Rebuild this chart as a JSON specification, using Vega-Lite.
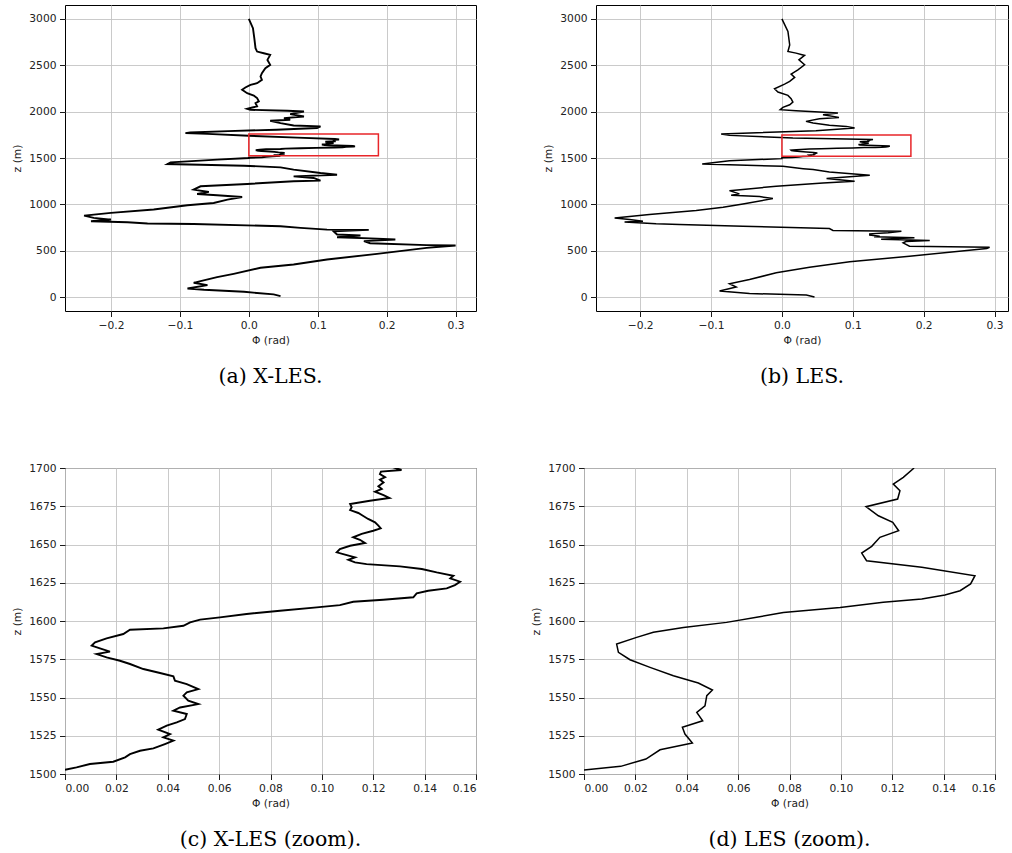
{
  "$schema": "https://vega.github.io/schema/vega-lite/v6.json",
  "padding": {"left": 4, "top": 4, "right": 0, "bottom": 0},
  "config": {
    "view": {"stroke": "#000000", "strokeWidth": 1},
    "axis": {
      "domain": false, "grid": true, "gridColor": "#c4c4c4", "gridWidth": 0.9,
      "tickColor": "#000000", "tickSize": 5.5, "tickWidth": 0.9, "labelPadding": 3.5,
      "labelFont": "DejaVu Sans", "labelFontSize": 10.7, "labelColor": "#222222",
      "titleFont": "DejaVu Sans", "titleFontSize": 10.7, "titleFontWeight": "normal", "titleColor": "#222222"
    },
    "axisY": {"minExtent": 37, "maxExtent": 37, "titlePadding": 6},
    "axisX": {"titlePadding": 6},
    "title": {"font": "DejaVu Serif", "fontSize": 20.5, "fontWeight": "normal", "color": "#000000", "orient": "bottom", "anchor": "middle", "offset": 22}
  },
  "datasets": {
    "xles": [
      {"z": 11, "phi": 0.046}, {"z": 29, "phi": 0.036}, {"z": 57, "phi": -0.007}, {"z": 79, "phi": -0.065}, {"z": 93, "phi": -0.089},
      {"z": 129, "phi": -0.06}, {"z": 154, "phi": -0.08}, {"z": 172, "phi": -0.07}, {"z": 215, "phi": -0.046}, {"z": 251, "phi": -0.022},
      {"z": 316, "phi": 0.017}, {"z": 352, "phi": 0.065}, {"z": 405, "phi": 0.1135}, {"z": 466, "phi": 0.186}, {"z": 531, "phi": 0.258},
      {"z": 556, "phi": 0.3}, {"z": 560, "phi": 0.258}, {"z": 581, "phi": 0.176}, {"z": 603, "phi": 0.167}, {"z": 621, "phi": 0.2126},
      {"z": 631, "phi": 0.186}, {"z": 646, "phi": 0.128}, {"z": 664, "phi": 0.162}, {"z": 675, "phi": 0.128}, {"z": 710, "phi": 0.123},
      {"z": 725, "phi": 0.174}, {"z": 728, "phi": 0.1135}, {"z": 746, "phi": 0.075}, {"z": 764, "phi": 0.046}, {"z": 789, "phi": -0.08},
      {"z": 793, "phi": -0.147}, {"z": 807, "phi": -0.176}, {"z": 818, "phi": -0.229}, {"z": 836, "phi": -0.2}, {"z": 854, "phi": -0.225},
      {"z": 879, "phi": -0.239}, {"z": 908, "phi": -0.2}, {"z": 944, "phi": -0.138}, {"z": 990, "phi": -0.089}, {"z": 1015, "phi": -0.051},
      {"z": 1051, "phi": -0.031}, {"z": 1080, "phi": -0.0097}, {"z": 1098, "phi": -0.046}, {"z": 1112, "phi": -0.075}, {"z": 1134, "phi": -0.058},
      {"z": 1159, "phi": -0.08}, {"z": 1195, "phi": -0.07}, {"z": 1220, "phi": -0.0024}, {"z": 1249, "phi": 0.065}, {"z": 1256, "phi": 0.104},
      {"z": 1285, "phi": 0.094}, {"z": 1302, "phi": 0.065}, {"z": 1320, "phi": 0.128}, {"z": 1338, "phi": 0.104}, {"z": 1374, "phi": 0.065},
      {"z": 1399, "phi": 0.046}, {"z": 1417, "phi": -0.007}, {"z": 1428, "phi": -0.07}, {"z": 1435, "phi": -0.118}, {"z": 1453, "phi": -0.1135},
      {"z": 1482, "phi": -0.046}, {"z": 1500, "phi": 0.0}, {"z": 1503, "phi": 0.0}, {"z": 1508, "phi": 0.019}, {"z": 1513, "phi": 0.025},
      {"z": 1517, "phi": 0.034}, {"z": 1522, "phi": 0.042}, {"z": 1526, "phi": 0.041}, {"z": 1529, "phi": 0.036}, {"z": 1534, "phi": 0.044},
      {"z": 1539, "phi": 0.047}, {"z": 1543, "phi": 0.045}, {"z": 1546, "phi": 0.052}, {"z": 1550, "phi": 0.046}, {"z": 1555, "phi": 0.052},
      {"z": 1561, "phi": 0.043}, {"z": 1566, "phi": 0.037}, {"z": 1572, "phi": 0.025}, {"z": 1578, "phi": 0.012}, {"z": 1580, "phi": 0.0175},
      {"z": 1584, "phi": 0.01}, {"z": 1589, "phi": 0.016}, {"z": 1594, "phi": 0.025}, {"z": 1597, "phi": 0.046}, {"z": 1601, "phi": 0.053},
      {"z": 1605, "phi": 0.075}, {"z": 1609, "phi": 0.098}, {"z": 1613, "phi": 0.124}, {"z": 1616, "phi": 0.136}, {"z": 1620, "phi": 0.141},
      {"z": 1623, "phi": 0.152}, {"z": 1626, "phi": 0.154}, {"z": 1630, "phi": 0.151}, {"z": 1634, "phi": 0.139}, {"z": 1637, "phi": 0.117},
      {"z": 1640, "phi": 0.11}, {"z": 1645, "phi": 0.106}, {"z": 1649, "phi": 0.111}, {"z": 1653, "phi": 0.115}, {"z": 1657, "phi": 0.116},
      {"z": 1661, "phi": 0.123}, {"z": 1666, "phi": 0.118}, {"z": 1671, "phi": 0.114}, {"z": 1675, "phi": 0.111}, {"z": 1679, "phi": 0.119},
      {"z": 1681, "phi": 0.126}, {"z": 1686, "phi": 0.123}, {"z": 1692, "phi": 0.123}, {"z": 1697, "phi": 0.123}, {"z": 1699, "phi": 0.131},
      {"z": 1705, "phi": 0.125}, {"z": 1720, "phi": 0.07}, {"z": 1740, "phi": 0.0}, {"z": 1760, "phi": -0.06}, {"z": 1768, "phi": -0.092},
      {"z": 1775, "phi": -0.085}, {"z": 1790, "phi": -0.03}, {"z": 1805, "phi": 0.04}, {"z": 1823, "phi": 0.099}, {"z": 1841, "phi": 0.104},
      {"z": 1851, "phi": 0.065}, {"z": 1876, "phi": 0.046}, {"z": 1902, "phi": 0.031}, {"z": 1912, "phi": 0.06}, {"z": 1930, "phi": 0.051},
      {"z": 1948, "phi": 0.08}, {"z": 1973, "phi": 0.06}, {"z": 2002, "phi": 0.08}, {"z": 2009, "phi": 0.056}, {"z": 2020, "phi": 0.0024},
      {"z": 2031, "phi": -0.0024}, {"z": 2045, "phi": 0.005}, {"z": 2056, "phi": 0.012}, {"z": 2092, "phi": 0.0097}, {"z": 2110, "phi": 0.0145},
      {"z": 2146, "phi": 0.012}, {"z": 2174, "phi": 0.0072}, {"z": 2199, "phi": -0.0024}, {"z": 2235, "phi": -0.0097}, {"z": 2260, "phi": -0.005},
      {"z": 2289, "phi": 0.0024}, {"z": 2307, "phi": 0.012}, {"z": 2343, "phi": 0.019}, {"z": 2379, "phi": 0.017}, {"z": 2415, "phi": 0.019},
      {"z": 2469, "phi": 0.024}, {"z": 2504, "phi": 0.031}, {"z": 2558, "phi": 0.027}, {"z": 2612, "phi": 0.031}, {"z": 2630, "phi": 0.0217},
      {"z": 2648, "phi": 0.012}, {"z": 2684, "phi": 0.0097}, {"z": 2791, "phi": 0.008}, {"z": 2900, "phi": 0.006}, {"z": 3000, "phi": 0.0}
    ],
    "les": [
      {"z": 0, "phi": 0.046}, {"z": 22, "phi": 0.0344}, {"z": 39, "phi": -0.0457}, {"z": 65, "phi": -0.088}, {"z": 108, "phi": -0.0645},
      {"z": 144, "phi": -0.074}, {"z": 190, "phi": -0.0457}, {"z": 262, "phi": -0.008}, {"z": 323, "phi": 0.039}, {"z": 380, "phi": 0.0956},
      {"z": 441, "phi": 0.18}, {"z": 524, "phi": 0.289}, {"z": 538, "phi": 0.293}, {"z": 549, "phi": 0.18}, {"z": 585, "phi": 0.171},
      {"z": 600, "phi": 0.175}, {"z": 610, "phi": 0.2086}, {"z": 625, "phi": 0.14}, {"z": 639, "phi": 0.187}, {"z": 650, "phi": 0.13},
      {"z": 657, "phi": 0.138}, {"z": 670, "phi": 0.124}, {"z": 682, "phi": 0.124}, {"z": 695, "phi": 0.15}, {"z": 711, "phi": 0.1686},
      {"z": 718, "phi": 0.072}, {"z": 739, "phi": 0.067}, {"z": 764, "phi": -0.055}, {"z": 782, "phi": -0.1445}, {"z": 790, "phi": -0.1775},
      {"z": 811, "phi": -0.222}, {"z": 818, "phi": -0.196}, {"z": 836, "phi": -0.215}, {"z": 854, "phi": -0.236}, {"z": 890, "phi": -0.187},
      {"z": 933, "phi": -0.121}, {"z": 969, "phi": -0.083}, {"z": 1005, "phi": -0.055}, {"z": 1062, "phi": -0.0127}, {"z": 1084, "phi": -0.0315},
      {"z": 1098, "phi": -0.0716}, {"z": 1113, "phi": -0.06}, {"z": 1148, "phi": -0.074}, {"z": 1195, "phi": -0.008}, {"z": 1231, "phi": 0.058},
      {"z": 1249, "phi": 0.1026}, {"z": 1278, "phi": 0.063}, {"z": 1292, "phi": 0.086}, {"z": 1314, "phi": 0.124}, {"z": 1349, "phi": 0.067},
      {"z": 1375, "phi": 0.044}, {"z": 1385, "phi": 0.03}, {"z": 1410, "phi": 0.0014}, {"z": 1428, "phi": -0.074}, {"z": 1436, "phi": -0.1125},
      {"z": 1471, "phi": -0.074}, {"z": 1493, "phi": 0.0}, {"z": 1502.6, "phi": 0.0}, {"z": 1505, "phi": 0.0143}, {"z": 1509.8, "phi": 0.0241},
      {"z": 1515.8, "phi": 0.0296}, {"z": 1520.2, "phi": 0.0422}, {"z": 1526.1, "phi": 0.0393}, {"z": 1530.5, "phi": 0.0383}, {"z": 1534.8, "phi": 0.0462},
      {"z": 1540.3, "phi": 0.0439}, {"z": 1544.6, "phi": 0.0471}, {"z": 1551.2, "phi": 0.0478}, {"z": 1554.9, "phi": 0.05}, {"z": 1559.5, "phi": 0.0445},
      {"z": 1564.2, "phi": 0.0348}, {"z": 1569.7, "phi": 0.0257}, {"z": 1574.7, "phi": 0.0179}, {"z": 1579.5, "phi": 0.0134}, {"z": 1584.9, "phi": 0.0127},
      {"z": 1589.3, "phi": 0.0205}, {"z": 1592.6, "phi": 0.027}, {"z": 1595.8, "phi": 0.0387}, {"z": 1599.1, "phi": 0.0555}, {"z": 1602.4, "phi": 0.0672},
      {"z": 1605.6, "phi": 0.0776}, {"z": 1608.9, "phi": 0.0997}, {"z": 1612.2, "phi": 0.1165}, {"z": 1614.4, "phi": 0.1315}, {"z": 1617, "phi": 0.1405},
      {"z": 1619.8, "phi": 0.1464}, {"z": 1624.2, "phi": 0.1505}, {"z": 1629.6, "phi": 0.1522}, {"z": 1639.4, "phi": 0.11}, {"z": 1644.4, "phi": 0.1081},
      {"z": 1648.8, "phi": 0.112}, {"z": 1654.7, "phi": 0.1152}, {"z": 1659, "phi": 0.1225}, {"z": 1664.5, "phi": 0.1202}, {"z": 1668.8, "phi": 0.1146},
      {"z": 1674.7, "phi": 0.1098}, {"z": 1679.7, "phi": 0.1221}, {"z": 1685.2, "phi": 0.123}, {"z": 1689.5, "phi": 0.1204}, {"z": 1693.9, "phi": 0.1243},
      {"z": 1700, "phi": 0.1285}, {"z": 1716, "phi": 0.0155}, {"z": 1744, "phi": -0.074}, {"z": 1759, "phi": -0.0857}, {"z": 1795, "phi": 0.048},
      {"z": 1823, "phi": 0.1026}, {"z": 1841, "phi": 0.091}, {"z": 1852, "phi": 0.067}, {"z": 1877, "phi": 0.044}, {"z": 1895, "phi": 0.034},
      {"z": 1924, "phi": 0.053}, {"z": 1938, "phi": 0.0805}, {"z": 1967, "phi": 0.058}, {"z": 1985, "phi": 0.079}, {"z": 2010, "phi": 0.02},
      {"z": 2021, "phi": -0.0024}, {"z": 2046, "phi": 0.0014}, {"z": 2074, "phi": 0.011}, {"z": 2103, "phi": 0.0155}, {"z": 2139, "phi": 0.013},
      {"z": 2175, "phi": 0.0085}, {"z": 2211, "phi": -0.0056}, {"z": 2247, "phi": -0.0104}, {"z": 2297, "phi": 0.0038}, {"z": 2326, "phi": 0.011},
      {"z": 2369, "phi": 0.018}, {"z": 2405, "phi": 0.013}, {"z": 2451, "phi": 0.0226}, {"z": 2505, "phi": 0.032}, {"z": 2559, "phi": 0.024},
      {"z": 2606, "phi": 0.032}, {"z": 2631, "phi": 0.02}, {"z": 2649, "phi": 0.0085}, {"z": 2720, "phi": 0.011}, {"z": 2864, "phi": 0.0085},
      {"z": 3000, "phi": 0.0}
    ],
    "xles_zoom": [
      {"z": 1502.8, "phi": 0.0}, {"z": 1504.3, "phi": 0.0045}, {"z": 1506.5, "phi": 0.0097}, {"z": 1508, "phi": 0.0188}, {"z": 1510.9, "phi": 0.0234},
      {"z": 1513, "phi": 0.0253}, {"z": 1515.2, "phi": 0.0292}, {"z": 1516.7, "phi": 0.0344}, {"z": 1519.6, "phi": 0.0389}, {"z": 1521.8, "phi": 0.0422},
      {"z": 1524, "phi": 0.0383}, {"z": 1526.1, "phi": 0.0409}, {"z": 1529, "phi": 0.0363}, {"z": 1531.6, "phi": 0.0396}, {"z": 1533.7, "phi": 0.0435},
      {"z": 1535.9, "phi": 0.0467}, {"z": 1539.2, "phi": 0.0474}, {"z": 1541.4, "phi": 0.0422}, {"z": 1543.5, "phi": 0.0448}, {"z": 1545.7, "phi": 0.0519},
      {"z": 1548, "phi": 0.048}, {"z": 1551.2, "phi": 0.0461}, {"z": 1553.4, "phi": 0.0474}, {"z": 1555.5, "phi": 0.0519}, {"z": 1558.8, "phi": 0.0474},
      {"z": 1561, "phi": 0.0428}, {"z": 1563.8, "phi": 0.0422}, {"z": 1566, "phi": 0.037}, {"z": 1568.6, "phi": 0.0305}, {"z": 1571.9, "phi": 0.0253},
      {"z": 1574, "phi": 0.0214}, {"z": 1576.2, "phi": 0.0162}, {"z": 1578.4, "phi": 0.0123}, {"z": 1580, "phi": 0.0175}, {"z": 1582.1, "phi": 0.0136},
      {"z": 1583.9, "phi": 0.0104}, {"z": 1586, "phi": 0.0117}, {"z": 1588.7, "phi": 0.0162}, {"z": 1591.5, "phi": 0.0227}, {"z": 1594.3, "phi": 0.0253},
      {"z": 1595.2, "phi": 0.0383}, {"z": 1596.9, "phi": 0.0461}, {"z": 1599.1, "phi": 0.0487}, {"z": 1600.9, "phi": 0.0526}, {"z": 1602.4, "phi": 0.0603},
      {"z": 1604.6, "phi": 0.0707}, {"z": 1606.7, "phi": 0.0837}, {"z": 1608.9, "phi": 0.098}, {"z": 1610.4, "phi": 0.107}, {"z": 1612.6, "phi": 0.1122},
      {"z": 1613.9, "phi": 0.1239}, {"z": 1615.5, "phi": 0.1356}, {"z": 1618.1, "phi": 0.1369}, {"z": 1619.8, "phi": 0.1414}, {"z": 1621.3, "phi": 0.1486},
      {"z": 1623.5, "phi": 0.1518}, {"z": 1625.7, "phi": 0.1538}, {"z": 1627.9, "phi": 0.15}, {"z": 1629.6, "phi": 0.1512}, {"z": 1631.8, "phi": 0.1447},
      {"z": 1634, "phi": 0.1389}, {"z": 1635.7, "phi": 0.1304}, {"z": 1637.2, "phi": 0.1174}, {"z": 1638.3, "phi": 0.1129}, {"z": 1640, "phi": 0.1103},
      {"z": 1641.6, "phi": 0.1129}, {"z": 1643.1, "phi": 0.1097}, {"z": 1644.9, "phi": 0.1058}, {"z": 1647, "phi": 0.107}, {"z": 1649.2, "phi": 0.111},
      {"z": 1651, "phi": 0.1168}, {"z": 1653.1, "phi": 0.1148}, {"z": 1654.7, "phi": 0.1122}, {"z": 1656.9, "phi": 0.1155}, {"z": 1659, "phi": 0.12},
      {"z": 1660.6, "phi": 0.1229}, {"z": 1662.3, "phi": 0.122}, {"z": 1664.5, "phi": 0.1207}, {"z": 1666.7, "phi": 0.118}, {"z": 1669.3, "phi": 0.1155},
      {"z": 1670.6, "phi": 0.1142}, {"z": 1672.5, "phi": 0.111}, {"z": 1674.3, "phi": 0.1116}, {"z": 1676.5, "phi": 0.111}, {"z": 1678.6, "phi": 0.1187},
      {"z": 1680.4, "phi": 0.1263}, {"z": 1682.3, "phi": 0.124}, {"z": 1684.5, "phi": 0.1207}, {"z": 1686.3, "phi": 0.1233}, {"z": 1688, "phi": 0.122},
      {"z": 1690.6, "phi": 0.124}, {"z": 1692.4, "phi": 0.1226}, {"z": 1694, "phi": 0.1246}, {"z": 1696, "phi": 0.1226}, {"z": 1697.6, "phi": 0.123},
      {"z": 1698.7, "phi": 0.131}, {"z": 1702, "phi": 0.125}
    ],
    "les_zoom": [
      {"z": 1502.6, "phi": 0.0}, {"z": 1505, "phi": 0.0143}, {"z": 1509.8, "phi": 0.0241}, {"z": 1515.8, "phi": 0.0296}, {"z": 1520.2, "phi": 0.0422},
      {"z": 1526.1, "phi": 0.0393}, {"z": 1530.5, "phi": 0.0383}, {"z": 1534.8, "phi": 0.0462}, {"z": 1540.3, "phi": 0.0439}, {"z": 1544.6, "phi": 0.0471},
      {"z": 1551.2, "phi": 0.0478}, {"z": 1554.9, "phi": 0.05}, {"z": 1559.5, "phi": 0.0445}, {"z": 1564.2, "phi": 0.0348}, {"z": 1569.7, "phi": 0.0257},
      {"z": 1574.7, "phi": 0.0179}, {"z": 1579.5, "phi": 0.0134}, {"z": 1584.9, "phi": 0.0127}, {"z": 1589.3, "phi": 0.0205}, {"z": 1592.6, "phi": 0.027},
      {"z": 1595.8, "phi": 0.0387}, {"z": 1599.1, "phi": 0.0555}, {"z": 1602.4, "phi": 0.0672}, {"z": 1605.6, "phi": 0.0776}, {"z": 1608.9, "phi": 0.0997},
      {"z": 1612.2, "phi": 0.1165}, {"z": 1614.4, "phi": 0.1315}, {"z": 1617, "phi": 0.1405}, {"z": 1619.8, "phi": 0.1464}, {"z": 1624.2, "phi": 0.1505},
      {"z": 1629.6, "phi": 0.1522}, {"z": 1635.1, "phi": 0.1315}, {"z": 1639.4, "phi": 0.11}, {"z": 1644.4, "phi": 0.1081}, {"z": 1648.8, "phi": 0.112},
      {"z": 1654.7, "phi": 0.1152}, {"z": 1659, "phi": 0.1225}, {"z": 1664.5, "phi": 0.1202}, {"z": 1668.8, "phi": 0.1146}, {"z": 1674.7, "phi": 0.1098},
      {"z": 1679.7, "phi": 0.1221}, {"z": 1685.2, "phi": 0.123}, {"z": 1689.5, "phi": 0.1204}, {"z": 1693.9, "phi": 0.1243}, {"z": 1700, "phi": 0.1285}
    ],
    "box_a": [{"x1": 0.0, "x2": 0.188, "z1": 1525, "z2": 1758}],
    "box_b": [{"x1": 0.0, "x2": 0.182, "z1": 1518, "z2": 1748}]
  },
  "spacing": 72,
  "vconcat": [
    {
      "spacing": 64,
      "hconcat": [
        {
          "width": 411, "height": 306,
          "title": "(a) X-LES.",
          "layer": [
            {
              "data": {"name": "xles"},
              "mark": {"type": "line", "color": "#000000", "strokeWidth": 1.9},
              "encoding": {
                "x": {"field": "phi", "type": "quantitative", "scale": {"domain": [-0.2667, 0.3296], "nice": false, "zero": false},
                      "axis": {"values": [-0.2, -0.1, 0, 0.1, 0.2, 0.3], "format": ".1f", "title": "Φ (rad)"}},
                "y": {"field": "z", "type": "quantitative", "scale": {"domain": [-150, 3150], "nice": false, "zero": false},
                      "axis": {"values": [0, 500, 1000, 1500, 2000, 2500, 3000], "format": "d", "title": ["", "z (m)"], "titleLineHeight": 6}},
                "order": {"field": "z", "type": "quantitative"}
              }
            },
            {
              "data": {"name": "box_a"},
              "mark": {"type": "rect", "fill": null, "fillOpacity": 0, "stroke": "#e8262a", "strokeWidth": 1.5},
              "encoding": {
                "x": {"field": "x1", "type": "quantitative"}, "x2": {"field": "x2"},
                "y": {"field": "z1", "type": "quantitative"}, "y2": {"field": "z2"}
              }
            }
          ]
        },
        {
          "width": 412, "height": 306,
          "title": "(b) LES.",
          "layer": [
            {
              "data": {"name": "les"},
              "mark": {"type": "line", "color": "#000000", "strokeWidth": 1.5},
              "encoding": {
                "x": {"field": "phi", "type": "quantitative", "scale": {"domain": [-0.2623, 0.319], "nice": false, "zero": false},
                      "axis": {"values": [-0.2, -0.1, 0, 0.1, 0.2, 0.3], "format": ".1f", "title": "Φ (rad)"}},
                "y": {"field": "z", "type": "quantitative", "scale": {"domain": [-150, 3150], "nice": false, "zero": false},
                      "axis": {"values": [0, 500, 1000, 1500, 2000, 2500, 3000], "format": "d", "title": "z (m)"}},
                "order": {"field": "z", "type": "quantitative"}
              }
            },
            {
              "data": {"name": "box_b"},
              "mark": {"type": "rect", "fill": null, "fillOpacity": 0, "stroke": "#e8262a", "strokeWidth": 1.5},
              "encoding": {
                "x": {"field": "x1", "type": "quantitative"}, "x2": {"field": "x2"},
                "y": {"field": "z1", "type": "quantitative"}, "y2": {"field": "z2"}
              }
            }
          ]
        }
      ]
    },
    {
      "spacing": 52,
      "hconcat": [
        {
          "width": 411, "height": 306,
          "title": "(c) X-LES (zoom).",
          "data": {"name": "xles_zoom"},
          "mark": {"type": "line", "color": "#000000", "strokeWidth": 1.9, "clip": true},
          "encoding": {
            "x": {"field": "phi", "type": "quantitative", "scale": {"domain": [0, 0.16], "nice": false, "zero": false},
                  "axis": {"values": [0, 0.02, 0.04, 0.06, 0.08, 0.1, 0.12, 0.14, 0.16], "format": ".2f", "title": "Φ (rad)"}},
            "y": {"field": "z", "type": "quantitative", "scale": {"domain": [1500, 1700], "nice": false, "zero": false},
                  "axis": {"values": [1500, 1525, 1550, 1575, 1600, 1625, 1650, 1675, 1700], "format": "d", "title": "z (m)"}},
            "order": {"field": "z", "type": "quantitative"}
          }
        },
        {
          "width": 411, "height": 306,
          "title": "(d) LES (zoom).",
          "data": {"name": "les_zoom"},
          "mark": {"type": "line", "color": "#000000", "strokeWidth": 1.5, "clip": true},
          "encoding": {
            "x": {"field": "phi", "type": "quantitative", "scale": {"domain": [0, 0.16], "nice": false, "zero": false},
                  "axis": {"values": [0, 0.02, 0.04, 0.06, 0.08, 0.1, 0.12, 0.14, 0.16], "format": ".2f", "title": "Φ (rad)"}},
            "y": {"field": "z", "type": "quantitative", "scale": {"domain": [1500, 1700], "nice": false, "zero": false},
                  "axis": {"values": [1500, 1525, 1550, 1575, 1600, 1625, 1650, 1675, 1700], "format": "d", "title": "z (m)"}},
            "order": {"field": "z", "type": "quantitative"}
          }
        }
      ]
    }
  ]
}
